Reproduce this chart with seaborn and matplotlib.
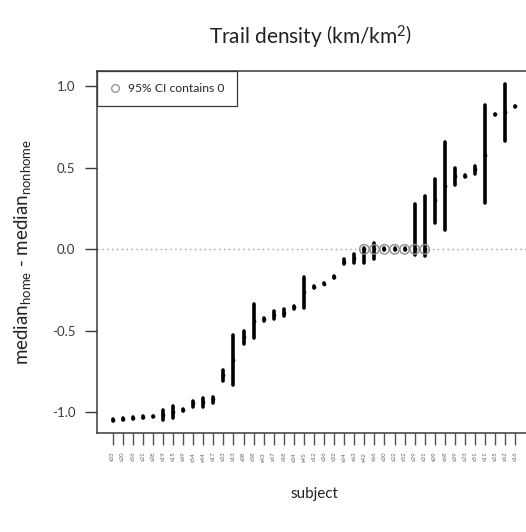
import matplotlib
matplotlib.use("Agg")
import matplotlib.pyplot as plt
from matplotlib.lines import Line2D
import numpy as np
import pandas as pd
import seaborn as sns

# Subjects ordered by median difference
subjects = ["s03", "s20", "s56", "s21", "s28", "s19", "s15", "s69", "s54", "s44",
            "s17", "s33", "s13", "s08", "s58", "s43", "s67", "s18", "s34", "s45",
            "s12", "s36", "s32", "s64", "s63", "s42", "s66", "s30", "s22", "s52",
            "s29", "s31", "s09", "s68", "s39", "s23", "s51", "s11", "s35", "s62",
            "s16"]

median_diff = [-1.045, -1.040, -1.035, -1.030, -1.025, -1.015, -1.000, -0.985, -0.945, -0.935,
               -0.920, -0.770, -0.680, -0.540, -0.440, -0.430, -0.405, -0.390, -0.355, -0.260,
               -0.230, -0.210, -0.170, -0.075, -0.055, 0.000, 0.000, 0.000, 0.000, 0.000,
               0.000, 0.000, 0.300, 0.390, 0.450, 0.450, 0.490, 0.580, 0.830, 0.840,
               0.877]

ci_low = [-1.052, -1.046, -1.040, -1.035, -1.030, -1.045, -1.035, -0.990, -0.965, -0.965,
          -0.940, -0.805, -0.830, -0.580, -0.545, -0.440, -0.430, -0.410, -0.365, -0.360,
          -0.235, -0.215, -0.175, -0.090, -0.085, -0.085, -0.060, -0.005, -0.005, -0.005,
          -0.035, -0.040, 0.159, 0.118, 0.394, 0.445, 0.465, 0.282, 0.825, 0.663,
          0.872]

ci_high = [-1.040, -1.036, -1.030, -1.025, -1.020, -0.985, -0.960, -0.980, -0.930, -0.910,
           -0.905, -0.740, -0.525, -0.500, -0.335, -0.420, -0.380, -0.365, -0.345, -0.168,
           -0.225, -0.205, -0.165, -0.060, -0.030, 0.006, 0.036, 0.005, 0.005, 0.005,
           0.275, 0.326, 0.434, 0.659, 0.500, 0.455, 0.510, 0.888, 0.833, 1.012,
           0.882]

df = pd.DataFrame({"subject": subjects, "median": median_diff,
                   "lo": ci_low, "hi": ci_high})
df["contains0"] = (df["lo"] <= 0) & (df["hi"] >= 0)

sns.set_style("ticks")
plt.rcParams["font.family"] = ["Lato", "DejaVu Sans"]
plt.rcParams["mathtext.fontset"] = "custom"
plt.rcParams["mathtext.rm"] = "Lato"
plt.rcParams["mathtext.it"] = "Lato:italic"

W, H = 526, 532
fig = plt.figure(figsize=(W / 100, H / 100), dpi=100)
ax = fig.add_axes([97 / W, 99 / H, 434 / W, 362 / H])

# reference line at zero
ax.axhline(0, color="#9a9a9a", lw=1.0, ls=(0, (1, 2.5)), zorder=1)

# confidence intervals
ax.vlines(df["subject"], df["lo"], df["hi"], color="black", lw=2.6,
          capstyle="round", zorder=2)

# medians
sns.scatterplot(data=df, x="subject", y="median", ax=ax, color="black",
                s=7, linewidth=0, zorder=3, legend=False)

# intervals covering zero
sns.scatterplot(data=df[df["contains0"] & (df["median"] == 0)], x="subject", y="median",
                ax=ax, facecolor="none", edgecolor="#8c8c8c", s=46,
                linewidth=1.0, zorder=4, legend=False)

ax.set_xlim(-1.56, len(subjects) - 1 + 1.56)
ax.set_ylim(-1.127, 1.094)
ax.set_yticks([-1.0, -0.5, 0.0, 0.5, 1.0])
ax.set_yticklabels(["-1.0", "-0.5", "0.0", "0.5", "1.0"])

for sp in ax.spines.values():
    sp.set_color("#3a3a3a")
    sp.set_linewidth(1.1)
    sp.set_visible(True)

ax.tick_params(axis="y", length=8.5, width=1.0, color="#3a3a3a", pad=7,
               labelsize=9.5, labelcolor="#3a3a3a")
ax.tick_params(axis="x", length=8.5, width=1.0, color="#555555", pad=5,
               labelsize=4.3, labelcolor="#666666", labelrotation=90)

ax.set_xlabel("subject", fontsize=11, color="#222222", labelpad=18)
ax.set_ylabel(r"median$_{\mathregular{home}}$ - median$_{\mathregular{nonhome}}$",
              fontsize=13.5, color="#222222", labelpad=14)

fig.text(311 / W, 1 - 37 / H,
         r"Trail density $\left(\mathregular{km/km^2}\right)$",
         ha="center", va="center", fontsize=15, color="#222222")

handle = Line2D([], [], marker="o", ls="none", markerfacecolor="none",
                markeredgecolor="#8c8c8c", markersize=5.5, markeredgewidth=0.9)
leg = ax.legend([handle], ["95% CI contains 0"], loc="upper left",
                borderaxespad=0, fancybox=False, framealpha=1, fontsize=8.7,
                handlelength=1.0, handletextpad=0.6, borderpad=1.0)
leg.get_frame().set_edgecolor("#3a3a3a")
leg.get_frame().set_linewidth(0.9)

fig.savefig("out.png", dpi=100)
